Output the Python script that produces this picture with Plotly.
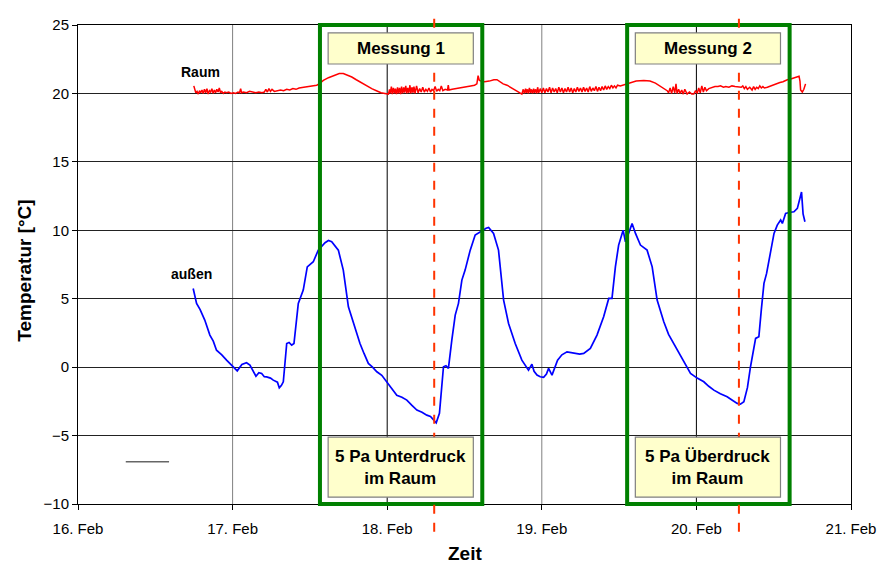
import pandas as pd
import plotly.graph_objects as go

BASE = pd.Timestamp("2009-02-16")

# ---- data (days after 16. Feb, temperature in °C) ----
raum_days = [0.749, 0.755, 0.762, 0.770, 0.778, 0.786, 0.794, 0.802, 0.810, 0.818, 0.826, 0.834, 0.842, 0.850,
             0.858, 0.866, 0.874, 0.882, 0.890, 0.898, 0.906, 0.914, 0.922, 0.930, 0.940, 0.950, 0.960, 0.975,
             0.990, 1.005, 1.020, 1.035, 1.045, 1.052, 1.058, 1.070, 1.090, 1.110, 1.130, 1.150, 1.170, 1.190,
             1.205, 1.215, 1.225, 1.235, 1.245, 1.255, 1.270, 1.290, 1.310, 1.330, 1.350, 1.370, 1.390, 1.410,
             1.430, 1.460, 1.490, 1.520, 1.544, 1.560, 1.587, 1.620, 1.650, 1.690, 1.716, 1.740, 1.771, 1.800,
             1.830, 1.860, 1.880, 1.900, 1.930, 1.960, 1.985, 2.008, 2.015, 2.020, 2.027, 2.033, 2.040, 2.047,
             2.053, 2.060, 2.067, 2.073, 2.080, 2.087, 2.093, 2.100, 2.107, 2.113, 2.120, 2.127, 2.133, 2.140,
             2.147, 2.153, 2.160, 2.167, 2.173, 2.180, 2.190, 2.200, 2.210, 2.220, 2.230, 2.240, 2.250, 2.260,
             2.270, 2.280, 2.290, 2.300, 2.310, 2.320, 2.330, 2.340, 2.350, 2.360, 2.375, 2.390, 2.395, 2.400,
             2.420, 2.450, 2.480, 2.510, 2.540, 2.565, 2.580, 2.588, 2.596, 2.610, 2.630, 2.660, 2.690, 2.710,
             2.730, 2.750, 2.775, 2.800, 2.830, 2.850, 2.871, 2.880, 2.887, 2.895, 2.900, 2.907, 2.913, 2.920,
             2.927, 2.933, 2.940, 2.947, 2.953, 2.960, 2.967, 2.973, 2.980, 2.990, 3.000, 3.010, 3.020, 3.030,
             3.040, 3.050, 3.060, 3.070, 3.080, 3.090, 3.100, 3.110, 3.120, 3.130, 3.140, 3.150, 3.160, 3.170,
             3.180, 3.190, 3.200, 3.210, 3.220, 3.230, 3.240, 3.250, 3.260, 3.270, 3.280, 3.290, 3.300, 3.310,
             3.320, 3.330, 3.340, 3.350, 3.360, 3.370, 3.380, 3.390, 3.400, 3.410, 3.420, 3.430, 3.440, 3.450,
             3.460, 3.470, 3.480, 3.490, 3.508, 3.540, 3.573, 3.610, 3.660, 3.700, 3.735, 3.760, 3.790, 3.811,
             3.820, 3.830, 3.840, 3.850, 3.860, 3.868, 3.875, 3.885, 3.895, 3.905, 3.915, 3.925, 3.940, 3.955,
             3.970, 3.983, 3.995, 4.005, 4.015, 4.025, 4.035, 4.045, 4.055, 4.065, 4.080, 4.100, 4.120, 4.140,
             4.156, 4.175, 4.190, 4.210, 4.230, 4.250, 4.275, 4.290, 4.300, 4.310, 4.320, 4.330, 4.345, 4.360,
             4.370, 4.380, 4.390, 4.400, 4.410, 4.420, 4.430, 4.440, 4.459, 4.480, 4.500, 4.520, 4.540, 4.560,
             4.588, 4.610, 4.640, 4.664, 4.670, 4.674, 4.685, 4.695, 4.706]
raum_temp = [20.55, 20.30, 20.05, 20.15, 19.95, 20.20, 20.05, 20.25, 20.00, 20.30, 20.05, 20.35, 19.95, 20.20,
             20.10, 20.35, 20.00, 20.25, 20.05, 20.30, 20.10, 20.40, 20.05, 20.15, 20.00, 20.10, 20.05, 20.10,
             20.00, 20.05, 20.00, 20.10, 20.05, 20.35, 20.05, 20.10, 20.05, 20.15, 20.10, 20.05, 20.10, 20.05,
             20.10, 20.30, 20.10, 20.35, 20.15, 20.30, 20.15, 20.20, 20.25, 20.20, 20.30, 20.25, 20.35, 20.30,
             20.40, 20.45, 20.50, 20.55, 20.60, 20.70, 20.95, 21.15, 21.30, 21.45, 21.45, 21.35, 21.20, 21.00,
             20.80, 20.65, 20.50, 20.35, 20.20, 20.05, 20.00, 19.95, 20.30, 20.00, 20.50, 19.95, 20.40, 20.00,
             20.35, 19.95, 20.45, 20.00, 20.40, 19.95, 20.50, 20.00, 20.45, 20.05, 20.55, 20.00, 20.40, 20.05,
             20.60, 20.00, 20.45, 20.05, 20.50, 20.00, 20.55, 20.05, 20.35, 20.10, 20.45, 20.10, 20.30, 20.15,
             20.40, 20.10, 20.30, 20.20, 20.50, 20.15, 20.30, 20.20, 20.55, 20.20, 20.30, 20.25, 20.60, 20.25,
             20.30, 20.35, 20.40, 20.45, 20.55, 20.60, 20.70, 21.30, 20.95, 20.90, 20.85, 20.90, 21.00, 21.00,
             20.85, 20.70, 20.60, 20.45, 20.25, 20.10, 19.95, 20.30, 20.00, 20.35, 20.05, 20.30, 20.00, 20.40,
             20.05, 20.30, 20.00, 20.35, 20.05, 20.30, 20.00, 20.45, 20.05, 20.35, 20.05, 20.40, 20.05, 20.35,
             20.10, 20.45, 20.05, 20.40, 20.10, 20.35, 20.05, 20.45, 20.10, 20.40, 20.05, 20.35, 20.10, 20.45,
             20.10, 20.40, 20.05, 20.35, 20.10, 20.45, 20.15, 20.40, 20.10, 20.45, 20.15, 20.40, 20.10, 20.50,
             20.15, 20.40, 20.20, 20.50, 20.15, 20.45, 20.20, 20.50, 20.25, 20.55, 20.30, 20.50, 20.35, 20.60,
             20.40, 20.55, 20.40, 20.60, 20.55, 20.65, 20.80, 20.90, 20.95, 20.90, 20.75, 20.55, 20.35, 20.20,
             20.05, 20.40, 20.00, 20.50, 20.05, 20.70, 20.00, 20.30, 20.00, 20.25, 19.95, 20.30, 19.95, 20.10,
             19.95, 19.95, 20.20, 20.00, 20.40, 20.05, 20.55, 20.10, 20.45, 20.20, 20.35, 20.45, 20.50, 20.50,
             20.55, 20.45, 20.50, 20.45, 20.55, 20.50, 20.50, 20.45, 20.55, 20.35, 20.50, 20.30, 20.45, 20.25,
             20.50, 20.30, 20.45, 20.35, 20.55, 20.40, 20.50, 20.40, 20.45, 20.55, 20.60, 20.70, 20.80, 20.85,
             21.00, 21.05, 21.15, 21.25, 20.90, 20.25, 20.10, 20.30, 20.70]

aussen_days = [0.745, 0.767, 0.790, 0.820, 0.853, 0.875, 0.896, 0.930, 0.961, 1.004, 1.030, 1.060, 1.090,
               1.112, 1.151, 1.170, 1.188, 1.205, 1.220, 1.245, 1.263, 1.290, 1.302, 1.315, 1.328, 1.350,
               1.365, 1.382, 1.397, 1.425, 1.457, 1.483, 1.522, 1.554, 1.598, 1.620, 1.641, 1.684, 1.716,
               1.749, 1.781, 1.824, 1.850, 1.878, 1.905, 1.933, 1.965, 1.997, 2.030, 2.062, 2.095, 2.127,
               2.160, 2.192, 2.225, 2.256, 2.280, 2.300, 2.317, 2.338, 2.364, 2.380, 2.396, 2.418, 2.440,
               2.461, 2.483, 2.504, 2.537, 2.569, 2.613, 2.640, 2.656, 2.688, 2.720, 2.753, 2.785, 2.828,
               2.871, 2.914, 2.936, 2.950, 2.969, 2.990, 3.012, 3.030, 3.044, 3.066, 3.102, 3.130, 3.163,
               3.190, 3.217, 3.245, 3.271, 3.314, 3.357, 3.400, 3.433, 3.454, 3.476, 3.497, 3.526, 3.541,
               3.569, 3.584, 3.606, 3.638, 3.681, 3.714, 3.746, 3.789, 3.820, 3.854, 3.897, 3.930, 3.962,
               4.005, 4.048, 4.080, 4.113, 4.155, 4.199, 4.230, 4.264, 4.285, 4.307, 4.330, 4.350, 4.383,
               4.404, 4.420, 4.437, 4.454, 4.480, 4.502, 4.523, 4.545, 4.556, 4.577, 4.600, 4.631, 4.653,
               4.668, 4.680, 4.690, 4.702]
aussen_temp = [5.75, 4.65, 4.20, 3.44, 2.34, 1.90, 1.24, 0.90, 0.51, 0.03, -0.27, 0.20, 0.32,
               0.15, -0.66, -0.40, -0.46, -0.70, -0.71, -0.80, -0.95, -1.10, -1.51, -1.35, -1.07, 1.73,
               1.80, 1.61, 1.73, 4.65, 5.63, 7.33, 7.70, 8.55, 9.09, 9.25, 9.16, 8.55, 7.09,
               4.41, 3.19, 1.73, 1.00, 0.27, 0.00, -0.34, -0.60, -1.07, -1.50, -2.05, -2.20, -2.41,
               -2.80, -3.14, -3.30, -3.51, -3.60, -3.87, -4.07, -3.38, 0.03, 0.10, -0.09, 1.97, 3.80,
               4.66, 6.36, 7.09, 8.55, 9.65, 9.97, 10.15, 10.21, 9.77, 8.55, 4.90, 3.19, 1.73,
               0.51, -0.22, 0.22, -0.30, -0.58, -0.70, -0.75, -0.50, -0.09, -0.58, 0.51, 0.90, 1.12,
               1.05, 1.00, 0.95, 1.00, 1.37, 2.34, 3.68, 5.02, 5.02, 7.33, 8.92, 10.01, 9.16,
               10.01, 10.50, 9.77, 8.92, 8.55, 7.33, 4.90, 3.31, 2.40, 1.73, 0.88, 0.20, -0.46,
               -0.80, -1.07, -1.40, -1.68, -1.95, -2.17, -2.40, -2.65, -2.70, -2.53, -1.50, 0.03, 2.10,
               2.22, 4.20, 6.12, 6.85, 8.31, 9.77, 10.38, 10.75, 10.50, 11.23, 11.30, 11.35, 11.60,
               12.20, 12.80, 11.20, 10.62]

x_tick_days = [0, 1, 2, 3, 4, 5]
y_ticks = [-10, -5, 0, 5, 10, 15, 20, 25]

messung_windows = [(1.565, 2.615), (3.552, 4.603)]
messung_labels = ["Messung 1", "Messung 2"]
druck_labels = ["5 Pa Unterdruck<br>im Raum", "5 Pa Überdruck<br>im Raum"]
switch_days = [2.304, 4.275]


def to_date(d):
    return BASE + pd.to_timedelta(d, unit="D")


raum_x = [to_date(d) for d in raum_days]
aussen_x = [to_date(d) for d in aussen_days]

fig = go.Figure()
fig.add_trace(go.Scatter(x=raum_x, y=raum_temp, mode="lines", name="Raum",
                         line=dict(color="#ff0000", width=1.5), showlegend=False))
fig.add_trace(go.Scatter(x=aussen_x, y=aussen_temp, mode="lines", name="außen",
                         line=dict(color="#0000ff", width=1.7), showlegend=False))

shapes = []
# vertical grid lines
for d in x_tick_days[1:-1]:
    shapes.append(dict(type="line", xref="x", yref="paper", x0=to_date(d), x1=to_date(d), y0=0, y1=1,
                       line=dict(color="#808080" if d % 2 == 1 else "#000000", width=1), layer="below"))

# green measurement windows
for (a, b) in messung_windows:
    shapes.append(dict(type="rect", xref="x", yref="paper", x0=to_date(a), x1=to_date(b), y0=0, y1=1,
                       line=dict(color="#008000", width=4), fillcolor="rgba(0,0,0,0)", layer="above"))

# red dashed switch lines
for d in switch_days:
    shapes.append(dict(type="line", xref="x", yref="paper", x0=to_date(d), x1=to_date(d), y0=-0.058, y1=1.027,
                       line=dict(color="#ff3300", width=2, dash="dash"), layer="above"))

# label boxes
for (a, b) in messung_windows:
    for (y0, y1) in [(22.15, 24.42), (-9.50, -5.12)]:
        shapes.append(dict(type="rect", xref="x", yref="y", x0=to_date(a + 0.053), x1=to_date(a + 0.992),
                           y0=y0, y1=y1, line=dict(color="#808080", width=1.2), fillcolor="#ffffcc",
                           layer="above"))

# stray short grey segment
shapes.append(dict(type="line", xref="x", yref="y", x0=to_date(0.309), x1=to_date(0.589), y0=-6.92, y1=-6.92,
                   line=dict(color="#666666", width=1.5), layer="above"))

annotations = []
for (a, b), lab, dl in zip(messung_windows, messung_labels, druck_labels):
    cx = to_date(a + 0.5225)
    annotations.append(dict(x=cx, y=23.28, xref="x", yref="y", text="<b>" + lab + "</b>", showarrow=False,
                            font=dict(size=17, color="#000000", family="Arial")))
    annotations.append(dict(x=cx, y=-7.31, xref="x", yref="y", text="<b>" + dl + "</b>", showarrow=False,
                            font=dict(size=17, color="#000000", family="Arial")))

annotations.append(dict(x=to_date(0.795), y=21.53, xref="x", yref="y", text="<b>Raum</b>", showarrow=False,
                        font=dict(size=14, color="#000000", family="Arial")))
annotations.append(dict(x=to_date(0.734), y=6.8, xref="x", yref="y", text="<b>außen</b>", showarrow=False,
                        font=dict(size=14, color="#000000", family="Arial")))
annotations.append(dict(x=0.5, y=-0.103, xref="paper", yref="paper", text="<b>Zeit</b>", showarrow=False,
                        xanchor="center", yanchor="middle", font=dict(size=19, color="#000000", family="Arial")))
annotations.append(dict(x=-0.0686, y=0.487, xref="paper", yref="paper", text="<b>Temperatur [°C]</b>",
                        showarrow=False, textangle=-90, xanchor="center", yanchor="middle",
                        font=dict(size=19, color="#000000", family="Arial")))

fig.update_layout(
    width=889, height=564,
    margin=dict(l=78, r=38, t=25, b=60),
    paper_bgcolor="white", plot_bgcolor="white",
    font=dict(family="Arial", size=15, color="#000000"),
    shapes=shapes, annotations=annotations, showlegend=False,
)
fig.update_xaxes(
    type="date", range=[to_date(0), to_date(5)],
    tickvals=[to_date(d) for d in x_tick_days], tickformat="%d. %b",
    showgrid=False, zeroline=False,
    showline=True, linecolor="#000000", linewidth=1, mirror=True,
    ticks="outside", ticklen=5, tickcolor="#000000", ticklabelstandoff=6,
    tickfont=dict(size=15, family="Arial"),
)
fig.update_yaxes(
    range=[-10, 25], tickvals=y_ticks,
    showgrid=True, gridcolor="#222222", gridwidth=1, zeroline=False,
    showline=True, linecolor="#000000", linewidth=1, mirror=True,
    ticks="outside", ticklen=5, tickcolor="#000000",
    tickfont=dict(size=15, family="Arial"),
)

fig.write_html("out.html", config={"displayModeBar": False},
               post_script="document.body.style.margin='0';document.body.style.overflow='hidden';")
